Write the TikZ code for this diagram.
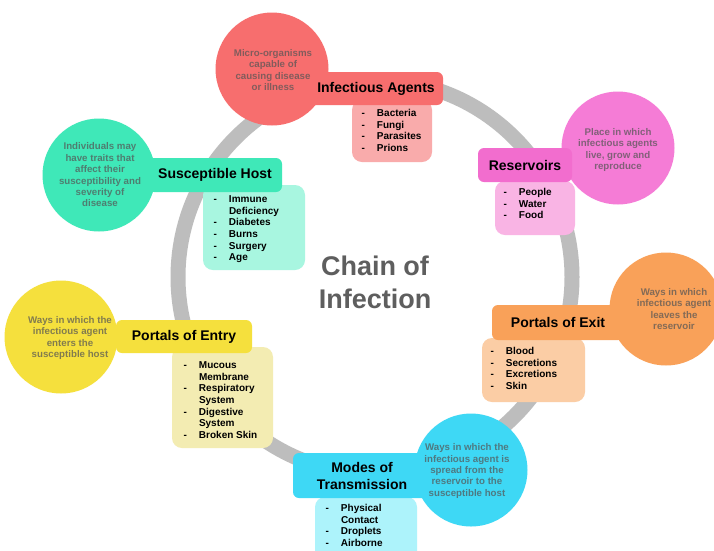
\documentclass[tikz,border=0pt]{standalone}
\usepackage{fontspec}
\setmainfont{Liberation Sans}
\usepackage{array}
\definecolor{ringgray}{HTML}{BDBDBD}
\definecolor{titlegray}{HTML}{5E5E5E}
\definecolor{descgray}{HTML}{555555}
\definecolor{redC}{HTML}{F76E6E}
\definecolor{redL}{HTML}{F9ABAB}
\definecolor{pinkC}{HTML}{F57CD6}
\definecolor{pinkT}{HTML}{F26DCE}
\definecolor{pinkL}{HTML}{F9B4E4}
\definecolor{greenC}{HTML}{3FE8B8}
\definecolor{greenL}{HTML}{A8F6E0}
\definecolor{yellowC}{HTML}{F5E03D}
\definecolor{yellowL}{HTML}{F3ECB2}
\definecolor{orangeC}{HTML}{F9A159}
\definecolor{orangeL}{HTML}{FBCDA5}
\definecolor{cyanC}{HTML}{3ED8F5}
\definecolor{cyanL}{HTML}{ADF3FB}
\newcommand{\itemlist}[1]{\begin{tabular}[t]{@{}p{15.5pt}@{}l@{}}#1\end{tabular}}
\tikzset{
  ringline/.style={circle, draw=ringgray, line width=15pt, minimum size=394pt, inner sep=0pt},
  bubble/.style={circle, fill=#1, minimum size=113pt, inner sep=0pt},
  headbox/.style={rectangle, rounded corners=6pt, fill=#1, inner sep=0pt, align=center,
    font=\fontsize{14}{17}\selectfont\bfseries},
  listbox/.style={rectangle, rounded corners=10pt, fill=#1, inner sep=0pt},
  listtext/.style={anchor=base west, inner sep=0pt, font=\fontsize{10}{11.6}\selectfont\bfseries},
  desctext/.style={inner sep=0pt, align=center, text=descgray, text opacity=0.72,
    font=\fontsize{9.7}{11.4}\selectfont\bfseries},
}
\begin{document}
\begin{tikzpicture}[x=1pt,y=-1pt]
\useasboundingbox (0,0) rectangle (714,550);
\clip (0,0) rectangle (714,550);
\fill[white] (0,0) rectangle (714,550);

% ring
\node[ringline] (ring) at (375,277) {};

% list boxes
\node[listbox=redL, minimum width=80pt, minimum height=62pt] (iaL) at (392,131) {};
\node[listbox=pinkL, minimum width=80pt, minimum height=54pt] (reL) at (535,208) {};
\node[listbox=greenL, minimum width=102pt, minimum height=85pt] (shL) at (254,227.5) {};
\node[listbox=yellowL, minimum width=101pt, minimum height=101pt] (peL) at (222.5,397.5) {};
\node[listbox=orangeL, minimum width=103pt, minimum height=64pt] (pxL) at (533.5,370) {};
\node[listbox=cyanL, minimum width=102pt, minimum height=65pt] (mtL) at (366,529.5) {};

% bubbles
\node[bubble=redC] (iaC) at (272,69) {};
\node[bubble=pinkC] (reC) at (618,148) {};
\node[bubble=greenC] (shC) at (99,175) {};
\node[bubble=yellowC] (peC) at (61,337) {};
\node[bubble=orangeC] (pxC) at (666,309) {};
\node[bubble=cyanC] (mtC) at (471,470) {};

% title boxes
\node[headbox=redC, minimum width=134pt, minimum height=33pt] (iaT) at (376,88.5) {Infectious Agents};
\node[headbox=pinkT, minimum width=94pt, minimum height=34pt] (reT) at (525,165) {Reservoirs};
\node[headbox=greenC, minimum width=134pt, minimum height=34pt] (shT) at (215,175) {Susceptible Host};
\node[headbox=yellowC, minimum width=136pt, minimum height=33pt] (peT) at (184,336.5) {Portals of Entry};
\node[headbox=orangeC, minimum width=132pt, minimum height=35pt] (pxT) at (558,322.5) {Portals of Exit};
\node[headbox=cyanC, minimum width=138pt, minimum height=45pt] (mtT) at (362,475.5) {Modes of\\Transmission};

% descriptions
\node[desctext] (iaD) at (273,70) {Micro-organisms\\capable of\\causing disease\\or illness};
\node[desctext] (reD) at (618,150) {Place in which\\infectious agents\\live, grow and\\reproduce};
\node[desctext] (shD) at (100,175) {Individuals may\\have traits that\\affect their\\susceptibility and\\severity of\\disease};
\node[desctext] (peD) at (70,338) {Ways in which the\\infectious agent\\enters the\\susceptible host};
\node[desctext] (pxD) at (674,309) {Ways in which\\infectious agent\\leaves the\\reservoir};
\node[desctext] (mtD) at (467,471) {Ways in which the\\infectious agent is\\spread from the\\reservoir to the\\susceptible host};

% list texts
\node[listtext] (iaX) at (361.3,116.6) {\itemlist{- & Bacteria\\ - & Fungi\\ - & Parasites\\ - & Prions}};
\node[listtext] (reX) at (503.3,195.6) {\itemlist{- & People\\ - & Water\\ - & Food}};
\node[listtext] (shX) at (213.3,202.6) {\itemlist{- & Immune\\ & Deficiency\\ - & Diabetes\\ - & Burns\\ - & Surgery\\ - & Age}};
\node[listtext] (peX) at (183.3,368.6) {\itemlist{- & Mucous\\ & Membrane\\ - & Respiratory\\ & System\\ - & Digestive\\ & System\\ - & Broken Skin}};
\node[listtext] (pxX) at (490.3,354.6) {\itemlist{- & Blood\\ - & Secretions\\ - & Excretions\\ - & Skin}};
\node[listtext] (mtX) at (325.3,511.6) {\itemlist{- & Physical\\ & Contact\\ - & Droplets\\ - & Airborne}};

% centre title
\node[font=\fontsize{27}{33}\selectfont\bfseries, text=titlegray, align=center, inner sep=0pt] (title) at (375,282) {Chain of\\Infection};
\end{tikzpicture}
\end{document}
